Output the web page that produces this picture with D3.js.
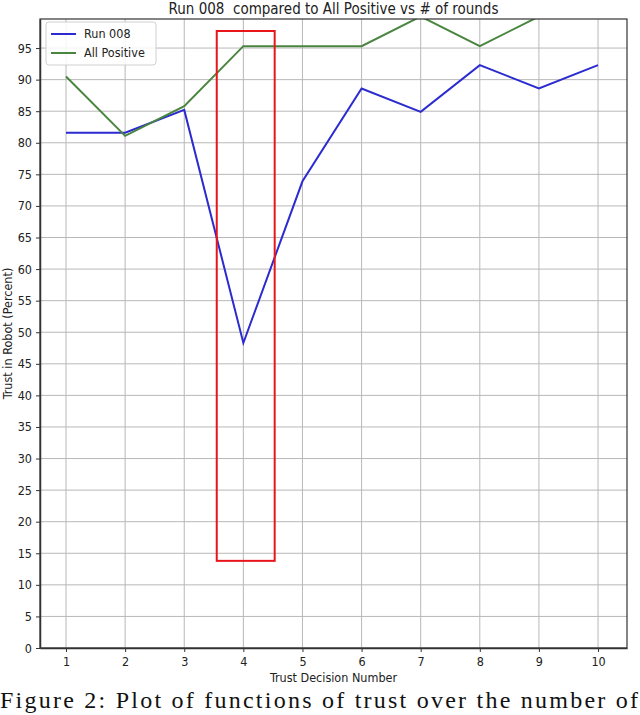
<!DOCTYPE html>
<html lang="en">
<head>
<meta charset="UTF-8">
<script src="https://cdn.jsdelivr.net/npm/d3@7"></script>
<style>
  body { margin: 0; background: #fff; }
  svg { display: block; }
</style>
</head>
<body>
<svg width="640" height="715"></svg>
<script>
// data
const rounds = [1, 2, 3, 4, 5, 6, 7, 8, 9, 10];
const run008 = [81.6, 81.6, 85.2, 48.3, 73.9, 88.6, 84.9, 92.3, 88.6, 92.3];
const allPositive = [90.5, 81.1, 85.8, 95.3, 95.3, 95.3, 100, 95.3, 100, 100];
const yTicks = [0, 5, 10, 15, 20, 25, 30, 35, 40, 45, 50, 55, 60, 65, 70, 75, 80, 85, 90, 95];
const highlight = {x0: 3.55, x1: 4.53, y0: 13.8, y1: 97.7};
const seriesNames = ["Run 008", "All Positive"];

const margin = {top: 19, right: 13, bottom: 67, left: 40};
const width = 640, height = 715;
const font = "'DejaVu Sans Condensed', 'DejaVu Sans', sans-serif";

const x = d3.scaleLinear()
    .domain([0.56, 10.49])
    .range([margin.left, width - margin.right]);

const y = d3.scaleLinear()
    .domain([0, 99.6])
    .range([height - margin.bottom, margin.top]);

const svg = d3.select("svg");

svg.append("clipPath").attr("id", "plot")
  .append("rect")
    .attr("x", margin.left).attr("y", margin.top)
    .attr("width", x.range()[1] - x.range()[0])
    .attr("height", y.range()[0] - y.range()[1]);

// grid
const grid = svg.append("g").attr("stroke", "#b8b8b8").attr("stroke-width", 1);
grid.selectAll(".gx").data(rounds).join("line")
    .attr("x1", d => x(d)).attr("x2", d => x(d))
    .attr("y1", y.range()[0]).attr("y2", y.range()[1]);
grid.selectAll(".gy").data(yTicks).join("line")
    .attr("y1", d => y(d)).attr("y2", d => y(d))
    .attr("x1", x.range()[0]).attr("x2", x.range()[1]);

const line = d3.line()
    .x((d, i) => x(rounds[i]))
    .y(d => y(d));

const plot = svg.append("g").attr("clip-path", "url(#plot)");

plot.append("path")
    .datum(run008)
    .attr("fill", "none")
    .attr("stroke", "#2b2bd0")
    .attr("stroke-width", 2)
    .attr("d", line);

plot.append("path")
    .datum(allPositive)
    .attr("fill", "none")
    .attr("stroke", "#4a8540")
    .attr("stroke-width", 2)
    .attr("d", line);

// red box
svg.append("rect")
    .attr("x", x(highlight.x0))
    .attr("y", y(highlight.y1))
    .attr("width", x(highlight.x1) - x(highlight.x0))
    .attr("height", y(highlight.y0) - y(highlight.y1))
    .attr("fill", "none")
    .attr("stroke", "#e8161b")
    .attr("stroke-width", 2);

// axes
const xAxis = g => g
    .attr("transform", `translate(0,${y.range()[0]})`)
    .call(d3.axisBottom(x).tickValues(rounds).tickSize(4).tickSizeOuter(0).tickPadding(5));

const yAxis = g => g
    .attr("transform", `translate(${margin.left},0)`)
    .call(d3.axisLeft(y).tickValues(yTicks).tickSize(4).tickSizeOuter(0).tickPadding(4));

svg.append("g").call(xAxis);
svg.append("g").call(yAxis);

svg.selectAll(".tick text")
    .attr("font-family", font)
    .attr("font-size", 12.5)
    .attr("fill", "#222");
svg.selectAll(".tick line").attr("stroke", "#333");

// frame
svg.append("rect")
    .attr("x", x.range()[0]).attr("y", y.range()[1])
    .attr("width", x.range()[1] - x.range()[0])
    .attr("height", y.range()[0] - y.range()[1])
    .attr("fill", "none")
    .attr("stroke", "#333")
    .attr("stroke-width", 1.2);
svg.selectAll(".domain").attr("stroke", "#333").attr("stroke-width", 1.5);

// legend
const legend = svg.append("g").attr("transform", "translate(46,22)");
legend.append("rect")
    .attr("width", 110).attr("height", 43).attr("rx", 3)
    .attr("fill", "#fff").attr("fill-opacity", 0.85)
    .attr("stroke", "#d0d0d0");
const colors = ["#2b2bd0", "#4a8540"];
seriesNames.forEach((name, i) => {
  legend.append("line")
      .attr("x1", 5).attr("x2", 30)
      .attr("y1", 12 + i * 19).attr("y2", 12 + i * 19)
      .attr("stroke", colors[i]).attr("stroke-width", 2);
  legend.append("text")
      .attr("x", 38).attr("y", 16 + i * 19)
      .attr("font-family", font).attr("font-size", 12.5)
      .attr("fill", "#222")
      .text(name);
});

// titles
svg.append("text")
    .attr("x", (x.range()[0] + x.range()[1]) / 2).attr("y", 14)
    .attr("text-anchor", "middle")
    .attr("font-family", font).attr("font-size", 15)
    .attr("fill", "#222")
    .style("white-space", "pre")
    .text("Run 008  compared to All Positive vs # of rounds");

svg.append("text")
    .attr("x", (x.range()[0] + x.range()[1]) / 2).attr("y", 682)
    .attr("text-anchor", "middle")
    .attr("font-family", font).attr("font-size", 12.5)
    .attr("fill", "#222")
    .text("Trust Decision Number");

svg.append("text")
    .attr("transform", `translate(12,${(y.range()[0] + y.range()[1]) / 2}) rotate(-90)`)
    .attr("text-anchor", "middle")
    .attr("font-family", font).attr("font-size", 12.5)
    .attr("fill", "#222")
    .text("Trust in Robot (Percent)");

// caption
svg.append("text")
    .attr("x", 0).attr("y", 708)
    .attr("font-family", "'Liberation Serif', serif")
    .attr("font-size", 24)
    .attr("fill", "#111")
    .attr("textLength", 638)
    .attr("lengthAdjust", "spacing")
    .text("Figure 2: Plot of functions of trust over the number of");
</script>
</body>
</html>
